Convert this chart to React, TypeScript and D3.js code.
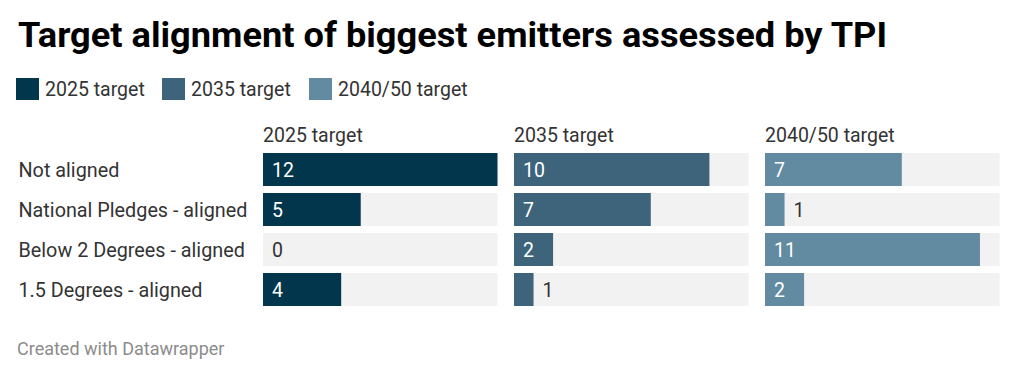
import React from "react";
import * as d3 from "d3";

const categories = ["Not aligned", "National Pledges - aligned", "Below 2 Degrees - aligned", "1.5 Degrees - aligned"];
const seriesNames = ["2025 target", "2035 target", "2040/50 target"];
const values2025 = [12, 5, 0, 4];
const values2035 = [10, 7, 2, 1];
const values2040 = [7, 1, 11, 2];
const colors = ["#01364c", "#3d647b", "#628ba1"];

const W = 1024;
const H = 377;
const FONT = "Roboto, 'Noto Sans', sans-serif";

export default function App() {
  const series = [values2025, values2035, values2040];
  const panelLeft = 263;
  const panelW = 234.5;
  const panelGap = 16.5;
  const x = d3.scaleLinear().domain([0, 12]).range([0, panelW]);
  const y = d3.scaleBand<string>().domain(categories).range([153, 306]).paddingInner(0.175).paddingOuter(0);

  return (
    <div style={{ margin: -8, width: W, height: H, background: "#fff" }}>
      <svg width={W} height={H} style={{ display: "block", fontFamily: FONT }}>
        <text x={18} y={47} fontSize={35} fontWeight={700} fill="#000" textLength={869} lengthAdjust="spacingAndGlyphs">
          Target alignment of biggest emitters assessed by TPI
        </text>
        {seriesNames.map((s, i) => {
          const lx = [16, 162, 309][i];
          return (
            <g key={s}>
              <rect x={lx} y={78} width={23} height={22} fill={colors[i]} />
              <text x={lx + 29} y={96} fontSize={19.5} fill="#333">{s}</text>
            </g>
          );
        })}
        {categories.map((c) => (
          <text key={c} x={18.5} y={(y(c) as number) + y.bandwidth() / 2 + 7} fontSize={19.8} fill="#333">{c}</text>
        ))}
        {series.map((vals, si) => {
          const px = panelLeft + si * (panelW + panelGap);
          return (
            <g key={si} transform={`translate(${px},0)`}>
              <text x={0} y={141.5} fontSize={19.5} fill="#333">{seriesNames[si]}</text>
              {categories.map((c, ci) => {
                const v = vals[ci];
                const by = y(c) as number;
                const bw = x(v);
                const label = String(v);
                const labelW = label.length * 11 + 18;
                const inside = bw > labelW;
                return (
                  <g key={c}>
                    <rect x={0} y={by} width={panelW} height={y.bandwidth()} fill="#f2f2f2" />
                    {v > 0 && <rect x={0} y={by} width={bw} height={y.bandwidth()} fill={colors[si]} />}
                    <text
                      x={inside ? 9 : bw + 9}
                      y={by + y.bandwidth() / 2 + 7}
                      fontSize={19.5}
                      fill={inside ? "#fff" : "#333"}
                    >
                      {label}
                    </text>
                  </g>
                );
              })}
            </g>
          );
        })}
        <text x={17} y={355} fontSize={18} fill="#8c8c8c">Created with Datawrapper</text>
      </svg>
    </div>
  );
}
